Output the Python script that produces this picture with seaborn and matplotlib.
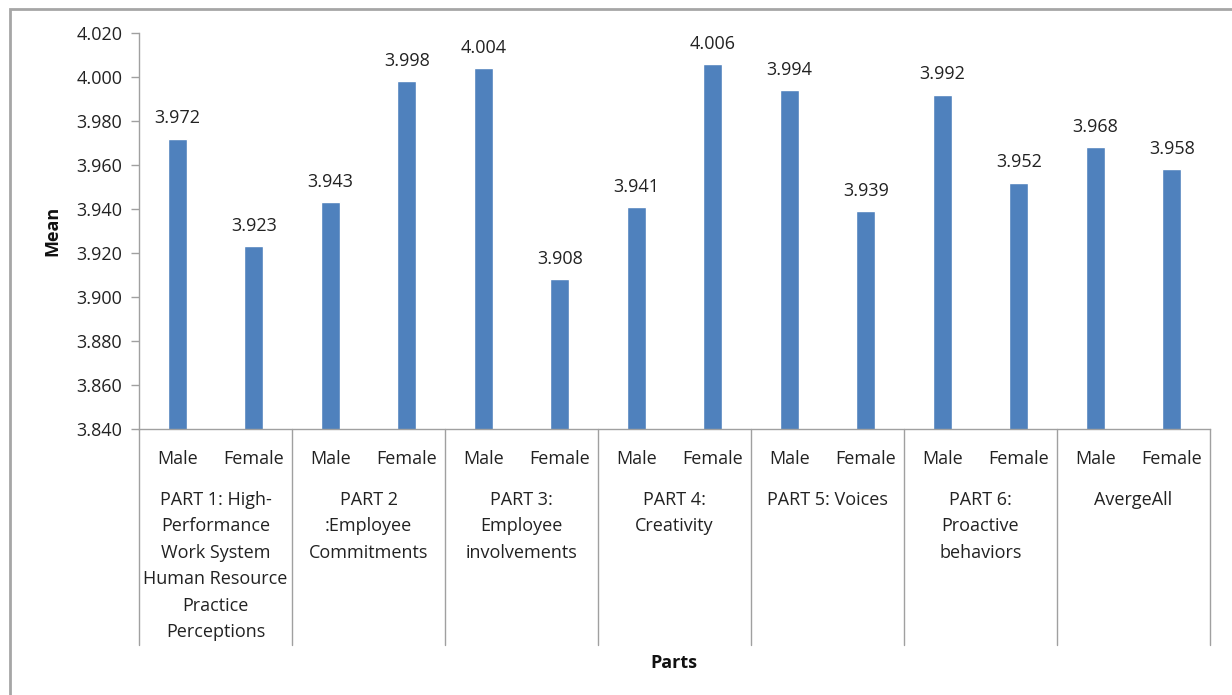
import matplotlib
matplotlib.use("Agg")
import matplotlib.pyplot as plt
import matplotlib.transforms as mtransforms
from matplotlib.patches import Rectangle
import seaborn as sns
import pandas as pd

groups = [
    "PART 1: High-\nPerformance\nWork System\nHuman Resource\nPractice\nPerceptions",
    "PART 2\n:Employee\nCommitments",
    "PART 3:\nEmployee\ninvolvements",
    "PART 4:\nCreativity",
    "PART 5: Voices",
    "PART 6:\nProactive\nbehaviors",
    "AvergeAll",
]
genders = ["Male", "Female"]
male = [3.972, 3.943, 4.004, 3.941, 3.994, 3.992, 3.968]
female = [3.923, 3.998, 3.908, 4.006, 3.939, 3.952, 3.958]
yticks = [3.840, 3.860, 3.880, 3.900, 3.920, 3.940, 3.960, 3.980, 4.000, 4.020]

rows = []
for i, g in enumerate(groups):
    rows.append({"key": f"{i}-Male", "gender": "Male", "mean": male[i]})
    rows.append({"key": f"{i}-Female", "gender": "Female", "mean": female[i]})
df = pd.DataFrame(rows)
order = list(df["key"])

sns.set_style("white")
plt.rcParams["font.family"] = ["Open Sans", "DejaVu Sans"]

FS = 13
fig = plt.figure(figsize=(12.32, 6.95), dpi=100)
W, H = 1232, 695
ax = fig.add_axes([139 / W, 1 - 429 / H, (1210 - 139) / W, (429 - 33) / H])

sns.barplot(data=df, x="key", y="mean", order=order, color="#4F81BD",
            width=0.25, saturation=1, ax=ax, errorbar=None)

ax.set_ylim(3.84, 4.02)
ax.set_xlim(-0.5, len(order) - 0.5)
ax.set_yticks(yticks)
ax.set_yticklabels([f"{v:.3f}" for v in yticks], fontsize=FS, color="#222222")
ax.set_xticks(range(len(order)))
ax.set_xticklabels(list(df["gender"]), fontsize=FS, color="#222222")
ax.tick_params(axis="x", length=0, pad=15)
ax.tick_params(axis="y", length=6, width=1, color="#a0a0a0", direction="out", pad=6, left=True)
ax.set_xlabel("")
ax.set_ylabel("")
for s in ["top", "right"]:
    ax.spines[s].set_visible(False)
for s in ["left", "bottom"]:
    ax.spines[s].set_color("#a0a0a0")
    ax.spines[s].set_linewidth(1)

for c in ax.containers:
    ax.bar_label(c, fmt="%.3f", padding=8, fontsize=FS, color="#222222")

trans = mtransforms.blended_transform_factory(ax.transData, ax.transAxes)
ybot = -(645 - 429) / (429 - 33)
for k in range(len(groups) + 1):
    xpos = 2 * k - 0.5
    ax.plot([xpos, xpos], [0, ybot], transform=trans, color="#a0a0a0",
            lw=1, clip_on=False)
for i, g in enumerate(groups):
    ax.text(2 * i + 0.5, -(491 - 429) / (429 - 33), g, transform=trans,
            ha="center", va="top", fontsize=FS, linespacing=1.6, color="#222222")

fig.text(52 / W, 1 - 231 / H, "Mean", rotation=90, ha="center", va="center",
         fontsize=FS, fontweight="bold", color="#111111")
fig.text(674 / W, 1 - 663 / H, "Parts", ha="center", va="center",
         fontsize=FS, fontweight="bold", color="#111111")

fig.patches.append(Rectangle((10 / W, -0.1), 1.2, 1 - 9 / H + 0.1,
                             transform=fig.transFigure, fill=False,
                             edgecolor="#a6a6a6", lw=2))

fig.savefig("out.png", dpi=100)
